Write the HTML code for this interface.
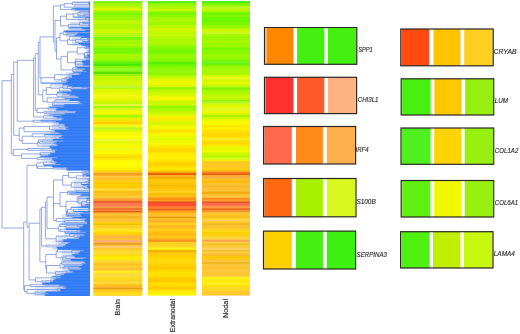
<!DOCTYPE html>
<html><head><meta charset="utf-8"><style>
html,body{margin:0;padding:0;background:#fff;}
body{width:520px;height:334px;overflow:hidden;}
svg{display:block;}
.lb{font-family:"Liberation Sans",sans-serif;font-size:7px;font-style:italic;fill:#2a2a2a;stroke:#2a2a2a;stroke-width:0.15px;}
.cl{font-family:"Liberation Sans",sans-serif;font-size:7px;fill:#2a2a2a;stroke:#2a2a2a;stroke-width:0.15px;}
</style></head><body>
<svg width="520" height="334" viewBox="0 0 520 334">
<defs><filter id="vb" x="-0.02" y="-0.01" width="1.04" height="1.02"><feGaussianBlur stdDeviation="0.15 0.45"/></filter><filter id="gs" x="0" y="0" width="1" height="1"><feColorMatrix type="identity"/></filter></defs>
<rect width="520" height="334" fill="#fff"/>
<g filter="url(#vb)">
<rect x="93.4" y="1.20" width="48.9" height="2.60" fill="#70f000"/>
<rect x="93.4" y="3.00" width="48.9" height="2.80" fill="#a0f800"/>
<rect x="93.4" y="5.00" width="48.9" height="2.80" fill="#b0f800"/>
<rect x="93.4" y="7.00" width="48.9" height="1.80" fill="#c0f800"/>
<rect x="93.4" y="8.00" width="48.9" height="2.80" fill="#d8f800"/>
<rect x="93.4" y="10.00" width="48.9" height="1.80" fill="#c0f800"/>
<rect x="93.4" y="11.00" width="48.9" height="2.80" fill="#98f800"/>
<rect x="93.4" y="13.00" width="48.9" height="2.80" fill="#80f800"/>
<rect x="93.4" y="15.00" width="48.9" height="2.80" fill="#90f800"/>
<rect x="93.4" y="17.00" width="48.9" height="3.80" fill="#a0f800"/>
<rect x="93.4" y="20.00" width="48.9" height="2.80" fill="#b8f800"/>
<rect x="93.4" y="22.00" width="48.9" height="2.80" fill="#c0f800"/>
<rect x="93.4" y="24.00" width="48.9" height="5.80" fill="#b0f800"/>
<rect x="93.4" y="29.00" width="48.9" height="2.80" fill="#c8f800"/>
<rect x="93.4" y="31.00" width="48.9" height="2.80" fill="#d0f800"/>
<rect x="93.4" y="33.00" width="48.9" height="2.80" fill="#b8f800"/>
<rect x="93.4" y="35.00" width="48.9" height="2.80" fill="#b0f820"/>
<rect x="93.4" y="37.00" width="48.9" height="3.80" fill="#80f800"/>
<rect x="93.4" y="40.00" width="48.9" height="4.80" fill="#a0f800"/>
<rect x="93.4" y="44.00" width="48.9" height="2.80" fill="#b0f800"/>
<rect x="93.4" y="46.00" width="48.9" height="2.80" fill="#90f800"/>
<rect x="93.4" y="48.00" width="48.9" height="5.80" fill="#78f800"/>
<rect x="93.4" y="53.00" width="48.9" height="1.80" fill="#88f800"/>
<rect x="93.4" y="54.00" width="48.9" height="5.80" fill="#a4f800"/>
<rect x="93.4" y="59.00" width="48.9" height="2.80" fill="#90f800"/>
<rect x="93.4" y="61.00" width="48.9" height="1.80" fill="#78f800"/>
<rect x="93.4" y="62.00" width="48.9" height="2.80" fill="#60f010"/>
<rect x="93.4" y="64.00" width="48.9" height="2.80" fill="#4ae800"/>
<rect x="93.4" y="66.00" width="48.9" height="2.80" fill="#88f800"/>
<rect x="93.4" y="68.00" width="48.9" height="3.80" fill="#90f820"/>
<rect x="93.4" y="71.00" width="48.9" height="1.80" fill="#80f010"/>
<rect x="93.4" y="72.00" width="48.9" height="2.80" fill="#60e000"/>
<rect x="93.4" y="74.00" width="48.9" height="2.80" fill="#98f010"/>
<rect x="93.4" y="76.00" width="48.9" height="3.80" fill="#c0f800"/>
<rect x="93.4" y="79.00" width="48.9" height="2.80" fill="#c8f800"/>
<rect x="93.4" y="81.00" width="48.9" height="2.80" fill="#d0f800"/>
<rect x="93.4" y="83.00" width="48.9" height="2.80" fill="#d8f800"/>
<rect x="93.4" y="85.00" width="48.9" height="1.80" fill="#c8f820"/>
<rect x="93.4" y="86.00" width="48.9" height="2.80" fill="#c0f830"/>
<rect x="93.4" y="88.00" width="48.9" height="1.80" fill="#b8f800"/>
<rect x="93.4" y="89.00" width="48.9" height="3.80" fill="#d8f800"/>
<rect x="93.4" y="92.00" width="48.9" height="2.80" fill="#e8f800"/>
<rect x="93.4" y="94.00" width="48.9" height="4.80" fill="#f0f808"/>
<rect x="93.4" y="98.00" width="48.9" height="2.80" fill="#e8f800"/>
<rect x="93.4" y="100.00" width="48.9" height="2.80" fill="#d8f800"/>
<rect x="93.4" y="102.00" width="48.9" height="2.80" fill="#c8f800"/>
<rect x="93.4" y="104.00" width="48.9" height="2.80" fill="#e8f840"/>
<rect x="93.4" y="106.00" width="48.9" height="2.80" fill="#a8f800"/>
<rect x="93.4" y="108.00" width="48.9" height="2.80" fill="#d8f820"/>
<rect x="93.4" y="110.00" width="48.9" height="2.80" fill="#f0f800"/>
<rect x="93.4" y="112.00" width="48.9" height="2.80" fill="#f8f800"/>
<rect x="93.4" y="114.00" width="48.9" height="1.80" fill="#d8f800"/>
<rect x="93.4" y="115.00" width="48.9" height="2.80" fill="#a8f800"/>
<rect x="93.4" y="117.00" width="48.9" height="1.80" fill="#c0f800"/>
<rect x="93.4" y="118.00" width="48.9" height="2.80" fill="#e8f000"/>
<rect x="93.4" y="120.00" width="48.9" height="2.80" fill="#ffe000"/>
<rect x="93.4" y="122.00" width="48.9" height="2.80" fill="#ffd000"/>
<rect x="93.4" y="124.00" width="48.9" height="1.80" fill="#ffe800"/>
<rect x="93.4" y="125.00" width="48.9" height="2.80" fill="#f0f820"/>
<rect x="93.4" y="127.00" width="48.9" height="1.80" fill="#d0f800"/>
<rect x="93.4" y="128.00" width="48.9" height="2.80" fill="#c0f820"/>
<rect x="93.4" y="130.00" width="48.9" height="2.80" fill="#e0f800"/>
<rect x="93.4" y="132.00" width="48.9" height="3.80" fill="#f8f800"/>
<rect x="93.4" y="135.00" width="48.9" height="3.80" fill="#ffff00"/>
<rect x="93.4" y="138.00" width="48.9" height="1.80" fill="#f8f800"/>
<rect x="93.4" y="139.00" width="48.9" height="2.80" fill="#e8f830"/>
<rect x="93.4" y="141.00" width="48.9" height="3.80" fill="#e8f800"/>
<rect x="93.4" y="144.00" width="48.9" height="2.80" fill="#f0f800"/>
<rect x="93.4" y="146.00" width="48.9" height="2.80" fill="#f8f800"/>
<rect x="93.4" y="148.00" width="48.9" height="2.80" fill="#f0f820"/>
<rect x="93.4" y="150.00" width="48.9" height="4.80" fill="#f8f800"/>
<rect x="93.4" y="154.00" width="48.9" height="2.80" fill="#ffe800"/>
<rect x="93.4" y="156.00" width="48.9" height="2.80" fill="#ffd800"/>
<rect x="93.4" y="158.00" width="48.9" height="2.80" fill="#ffe800"/>
<rect x="93.4" y="160.00" width="48.9" height="3.80" fill="#fff800"/>
<rect x="93.4" y="163.00" width="48.9" height="3.80" fill="#ffff00"/>
<rect x="93.4" y="166.00" width="48.9" height="2.80" fill="#f8f800"/>
<rect x="93.4" y="168.00" width="48.9" height="2.80" fill="#fff000"/>
<rect x="93.4" y="170.00" width="48.9" height="2.80" fill="#ffd800"/>
<rect x="93.4" y="172.00" width="48.9" height="1.80" fill="#ffc030"/>
<rect x="93.4" y="173.00" width="48.9" height="2.80" fill="#f0a020"/>
<rect x="93.4" y="175.00" width="48.9" height="1.80" fill="#ffb020"/>
<rect x="93.4" y="176.00" width="48.9" height="2.80" fill="#ffc840"/>
<rect x="93.4" y="178.00" width="48.9" height="2.80" fill="#ffc020"/>
<rect x="93.4" y="180.00" width="48.9" height="2.80" fill="#ffd020"/>
<rect x="93.4" y="182.00" width="48.9" height="2.80" fill="#ffc800"/>
<rect x="93.4" y="184.00" width="48.9" height="2.80" fill="#ffd000"/>
<rect x="93.4" y="186.00" width="48.9" height="2.80" fill="#ffc800"/>
<rect x="93.4" y="188.00" width="48.9" height="3.80" fill="#ffd830"/>
<rect x="93.4" y="191.00" width="48.9" height="2.60" fill="#f8c010"/>
<rect x="93.4" y="192.80" width="48.9" height="3.80" fill="#ffc020"/>
<rect x="93.4" y="195.80" width="48.9" height="2.60" fill="#ffd040"/>
<rect x="93.4" y="197.60" width="48.9" height="2.60" fill="#ffb030"/>
<rect x="93.4" y="199.40" width="48.9" height="2.60" fill="#f89030"/>
<rect x="93.4" y="201.20" width="48.9" height="2.60" fill="#e86030"/>
<rect x="93.4" y="203.00" width="48.9" height="2.60" fill="#ff7850"/>
<rect x="93.4" y="204.80" width="48.9" height="2.60" fill="#ff8050"/>
<rect x="93.4" y="206.60" width="48.9" height="2.20" fill="#f0a040"/>
<rect x="93.4" y="208.00" width="48.9" height="2.60" fill="#f07030"/>
<rect x="93.4" y="209.80" width="48.9" height="2.00" fill="#ff8840"/>
<rect x="93.4" y="211.00" width="48.9" height="2.00" fill="#e06010"/>
<rect x="93.4" y="212.20" width="48.9" height="2.00" fill="#ffa030"/>
<rect x="93.4" y="213.40" width="48.9" height="3.80" fill="#ffc030"/>
<rect x="93.4" y="216.40" width="48.9" height="2.30" fill="#f0b020"/>
<rect x="93.4" y="217.90" width="48.9" height="2.90" fill="#ffc030"/>
<rect x="93.4" y="220.00" width="48.9" height="2.30" fill="#ffc050"/>
<rect x="93.4" y="221.50" width="48.9" height="2.90" fill="#ffd000"/>
<rect x="93.4" y="223.60" width="48.9" height="2.20" fill="#f0c000"/>
<rect x="93.4" y="225.00" width="48.9" height="3.80" fill="#ffd020"/>
<rect x="93.4" y="228.00" width="48.9" height="2.00" fill="#ffd830"/>
<rect x="93.4" y="229.20" width="48.9" height="3.20" fill="#ffe820"/>
<rect x="93.4" y="231.60" width="48.9" height="3.20" fill="#ffd800"/>
<rect x="93.4" y="234.00" width="48.9" height="2.60" fill="#ffc820"/>
<rect x="93.4" y="235.80" width="48.9" height="3.20" fill="#f8b840"/>
<rect x="93.4" y="238.20" width="48.9" height="2.60" fill="#ffc030"/>
<rect x="93.4" y="240.00" width="48.9" height="2.60" fill="#ffa878"/>
<rect x="93.4" y="241.80" width="48.9" height="2.00" fill="#ffb850"/>
<rect x="93.4" y="243.00" width="48.9" height="2.60" fill="#e8a020"/>
<rect x="93.4" y="244.80" width="48.9" height="2.00" fill="#ffc040"/>
<rect x="93.4" y="246.00" width="48.9" height="2.80" fill="#ffc868"/>
<rect x="93.4" y="248.00" width="48.9" height="2.60" fill="#ffc830"/>
<rect x="93.4" y="249.80" width="48.9" height="3.80" fill="#ffd830"/>
<rect x="93.4" y="252.80" width="48.9" height="2.60" fill="#ffe030"/>
<rect x="93.4" y="254.60" width="48.9" height="2.60" fill="#ffd810"/>
<rect x="93.4" y="256.40" width="48.9" height="3.80" fill="#fff000"/>
<rect x="93.4" y="259.40" width="48.9" height="2.60" fill="#ffe030"/>
<rect x="93.4" y="261.20" width="48.9" height="3.20" fill="#ffd030"/>
<rect x="93.4" y="263.60" width="48.9" height="2.60" fill="#f8c020"/>
<rect x="93.4" y="265.40" width="48.9" height="3.40" fill="#ffd030"/>
<rect x="93.4" y="268.00" width="48.9" height="2.60" fill="#ffc030"/>
<rect x="93.4" y="269.80" width="48.9" height="2.00" fill="#ffd030"/>
<rect x="93.4" y="271.00" width="48.9" height="2.60" fill="#fff020"/>
<rect x="93.4" y="272.80" width="48.9" height="2.60" fill="#ffe030"/>
<rect x="93.4" y="274.60" width="48.9" height="2.60" fill="#ffd850"/>
<rect x="93.4" y="276.40" width="48.9" height="2.60" fill="#ffe020"/>
<rect x="93.4" y="278.20" width="48.9" height="2.60" fill="#ffd820"/>
<rect x="93.4" y="280.00" width="48.9" height="2.60" fill="#ffd030"/>
<rect x="93.4" y="281.80" width="48.9" height="2.60" fill="#ffe030"/>
<rect x="93.4" y="283.60" width="48.9" height="1.60" fill="#ffd030"/>
<rect x="93.4" y="284.40" width="48.9" height="3.20" fill="#ffc020"/>
<rect x="93.4" y="286.80" width="48.9" height="2.00" fill="#f8b030"/>
<rect x="93.4" y="288.00" width="48.9" height="1.70" fill="#e89810"/>
<rect x="93.4" y="288.90" width="48.9" height="2.90" fill="#ffc020"/>
<rect x="93.4" y="291.00" width="48.9" height="2.60" fill="#ffd020"/>
<rect x="93.4" y="292.80" width="48.9" height="2.90" fill="#ffe020"/>
<rect x="93.4" y="294.90" width="48.9" height="0.90" fill="#ffd840"/>
<rect x="148.0" y="1.10" width="48.2" height="2.70" fill="#50f010"/>
<rect x="148.0" y="3.00" width="48.2" height="3.00" fill="#90f800"/>
<rect x="148.0" y="5.20" width="48.2" height="3.10" fill="#a8f800"/>
<rect x="148.0" y="7.50" width="48.2" height="2.30" fill="#b0f800"/>
<rect x="148.0" y="9.00" width="48.2" height="2.70" fill="#c8f800"/>
<rect x="148.0" y="10.90" width="48.2" height="2.30" fill="#a0f800"/>
<rect x="148.0" y="12.40" width="48.2" height="3.40" fill="#78f800"/>
<rect x="148.0" y="15.00" width="48.2" height="3.00" fill="#90f800"/>
<rect x="148.0" y="17.20" width="48.2" height="3.10" fill="#a8f800"/>
<rect x="148.0" y="19.50" width="48.2" height="3.00" fill="#b0f800"/>
<rect x="148.0" y="21.70" width="48.2" height="4.10" fill="#a0f800"/>
<rect x="148.0" y="25.00" width="48.2" height="3.80" fill="#b8f800"/>
<rect x="148.0" y="28.00" width="48.2" height="4.50" fill="#d0f800"/>
<rect x="148.0" y="31.70" width="48.2" height="3.10" fill="#c0f800"/>
<rect x="148.0" y="34.00" width="48.2" height="3.00" fill="#c8f810"/>
<rect x="148.0" y="36.20" width="48.2" height="3.10" fill="#b8f800"/>
<rect x="148.0" y="38.50" width="48.2" height="3.00" fill="#a8f800"/>
<rect x="148.0" y="40.70" width="48.2" height="3.80" fill="#b0f800"/>
<rect x="148.0" y="43.70" width="48.2" height="3.80" fill="#a0f800"/>
<rect x="148.0" y="46.70" width="48.2" height="4.10" fill="#80f800"/>
<rect x="148.0" y="50.00" width="48.2" height="4.50" fill="#78f800"/>
<rect x="148.0" y="53.70" width="48.2" height="3.10" fill="#90f800"/>
<rect x="148.0" y="56.00" width="48.2" height="3.00" fill="#98f800"/>
<rect x="148.0" y="58.20" width="48.2" height="3.10" fill="#88f800"/>
<rect x="148.0" y="60.50" width="48.2" height="2.60" fill="#78f800"/>
<rect x="148.0" y="62.30" width="48.2" height="2.70" fill="#58f000"/>
<rect x="148.0" y="64.20" width="48.2" height="3.10" fill="#70f800"/>
<rect x="148.0" y="66.50" width="48.2" height="3.80" fill="#88f800"/>
<rect x="148.0" y="69.50" width="48.2" height="3.80" fill="#98f810"/>
<rect x="148.0" y="72.50" width="48.2" height="3.30" fill="#90f800"/>
<rect x="148.0" y="75.00" width="48.2" height="2.30" fill="#a8f800"/>
<rect x="148.0" y="76.50" width="48.2" height="3.00" fill="#c8f800"/>
<rect x="148.0" y="78.70" width="48.2" height="3.10" fill="#e0f800"/>
<rect x="148.0" y="81.00" width="48.2" height="3.00" fill="#f0f800"/>
<rect x="148.0" y="83.20" width="48.2" height="3.10" fill="#e8f800"/>
<rect x="148.0" y="85.50" width="48.2" height="2.60" fill="#d0f800"/>
<rect x="148.0" y="87.30" width="48.2" height="2.70" fill="#98f000"/>
<rect x="148.0" y="89.20" width="48.2" height="3.10" fill="#b8f800"/>
<rect x="148.0" y="91.50" width="48.2" height="3.00" fill="#c8f800"/>
<rect x="148.0" y="93.70" width="48.2" height="3.10" fill="#d8f800"/>
<rect x="148.0" y="96.00" width="48.2" height="3.00" fill="#f0f800"/>
<rect x="148.0" y="98.20" width="48.2" height="2.60" fill="#f8f800"/>
<rect x="148.0" y="100.00" width="48.2" height="2.30" fill="#d8f800"/>
<rect x="148.0" y="101.50" width="48.2" height="3.00" fill="#c8f800"/>
<rect x="148.0" y="103.70" width="48.2" height="2.70" fill="#d8f800"/>
<rect x="148.0" y="105.60" width="48.2" height="3.40" fill="#90f800"/>
<rect x="148.0" y="108.20" width="48.2" height="3.10" fill="#a8f800"/>
<rect x="148.0" y="110.50" width="48.2" height="3.00" fill="#c0f800"/>
<rect x="148.0" y="112.70" width="48.2" height="3.10" fill="#d0f800"/>
<rect x="148.0" y="115.00" width="48.2" height="3.00" fill="#e8f800"/>
<rect x="148.0" y="117.20" width="48.2" height="3.10" fill="#ffe800"/>
<rect x="148.0" y="119.50" width="48.2" height="3.00" fill="#f0f000"/>
<rect x="148.0" y="121.70" width="48.2" height="4.10" fill="#d8f800"/>
<rect x="148.0" y="125.00" width="48.2" height="5.30" fill="#f0f800"/>
<rect x="148.0" y="129.50" width="48.2" height="3.00" fill="#ffe000"/>
<rect x="148.0" y="131.70" width="48.2" height="2.30" fill="#ffe800"/>
<rect x="148.0" y="133.20" width="48.2" height="3.10" fill="#f8f800"/>
<rect x="148.0" y="135.50" width="48.2" height="3.00" fill="#f0f800"/>
<rect x="148.0" y="137.70" width="48.2" height="3.10" fill="#e0f800"/>
<rect x="148.0" y="140.00" width="48.2" height="3.80" fill="#f0f800"/>
<rect x="148.0" y="143.00" width="48.2" height="3.00" fill="#f8f800"/>
<rect x="148.0" y="145.20" width="48.2" height="3.80" fill="#ffe800"/>
<rect x="148.0" y="148.20" width="48.2" height="4.80" fill="#ffd800"/>
<rect x="148.0" y="152.20" width="48.2" height="3.10" fill="#ffe800"/>
<rect x="148.0" y="154.50" width="48.2" height="5.30" fill="#fff000"/>
<rect x="148.0" y="159.00" width="48.2" height="3.00" fill="#ffe800"/>
<rect x="148.0" y="161.20" width="48.2" height="3.10" fill="#ffd800"/>
<rect x="148.0" y="163.50" width="48.2" height="3.00" fill="#ffd000"/>
<rect x="148.0" y="165.70" width="48.2" height="3.10" fill="#ffe000"/>
<rect x="148.0" y="168.00" width="48.2" height="3.00" fill="#ffe800"/>
<rect x="148.0" y="170.20" width="48.2" height="2.30" fill="#ffd000"/>
<rect x="148.0" y="171.70" width="48.2" height="2.30" fill="#f8a010"/>
<rect x="148.0" y="173.20" width="48.2" height="2.60" fill="#e86000"/>
<rect x="148.0" y="175.00" width="48.2" height="3.00" fill="#ffb020"/>
<rect x="148.0" y="177.20" width="48.2" height="2.70" fill="#f0b000"/>
<rect x="148.0" y="179.10" width="48.2" height="3.40" fill="#ffc810"/>
<rect x="148.0" y="181.70" width="48.2" height="3.80" fill="#ffc800"/>
<rect x="148.0" y="184.70" width="48.2" height="2.30" fill="#f0b800"/>
<rect x="148.0" y="186.20" width="48.2" height="3.10" fill="#ffc000"/>
<rect x="148.0" y="188.50" width="48.2" height="3.00" fill="#ffc810"/>
<rect x="148.0" y="190.70" width="48.2" height="3.10" fill="#ffd020"/>
<rect x="148.0" y="193.00" width="48.2" height="3.00" fill="#f8c000"/>
<rect x="148.0" y="195.20" width="48.2" height="3.10" fill="#ffc020"/>
<rect x="148.0" y="197.50" width="48.2" height="3.30" fill="#ff9010"/>
<rect x="148.0" y="200.00" width="48.2" height="2.30" fill="#ffa020"/>
<rect x="148.0" y="201.50" width="48.2" height="1.90" fill="#d85010"/>
<rect x="148.0" y="202.60" width="48.2" height="4.20" fill="#ff5030"/>
<rect x="148.0" y="206.00" width="48.2" height="2.30" fill="#ff7030"/>
<rect x="148.0" y="207.50" width="48.2" height="1.90" fill="#ff9030"/>
<rect x="148.0" y="208.60" width="48.2" height="2.30" fill="#e86018"/>
<rect x="148.0" y="210.10" width="48.2" height="2.30" fill="#ff9020"/>
<rect x="148.0" y="211.60" width="48.2" height="2.30" fill="#ffb020"/>
<rect x="148.0" y="213.10" width="48.2" height="2.70" fill="#ffc020"/>
<rect x="148.0" y="215.00" width="48.2" height="2.60" fill="#ffc030"/>
<rect x="148.0" y="216.80" width="48.2" height="2.00" fill="#e09810"/>
<rect x="148.0" y="218.00" width="48.2" height="3.00" fill="#ffc020"/>
<rect x="148.0" y="220.20" width="48.2" height="3.10" fill="#ffb030"/>
<rect x="148.0" y="222.50" width="48.2" height="3.30" fill="#ffd020"/>
<rect x="148.0" y="225.00" width="48.2" height="3.00" fill="#ffb820"/>
<rect x="148.0" y="227.20" width="48.2" height="2.30" fill="#ffc020"/>
<rect x="148.0" y="228.70" width="48.2" height="3.10" fill="#ffd020"/>
<rect x="148.0" y="231.00" width="48.2" height="3.00" fill="#ffc010"/>
<rect x="148.0" y="233.20" width="48.2" height="3.10" fill="#ffb810"/>
<rect x="148.0" y="235.50" width="48.2" height="3.00" fill="#ffc820"/>
<rect x="148.0" y="237.70" width="48.2" height="2.70" fill="#ffb820"/>
<rect x="148.0" y="239.60" width="48.2" height="3.00" fill="#f89020"/>
<rect x="148.0" y="241.80" width="48.2" height="5.00" fill="#ffd020"/>
<rect x="148.0" y="246.00" width="48.2" height="3.00" fill="#ffe020"/>
<rect x="148.0" y="248.20" width="48.2" height="2.60" fill="#fff010"/>
<rect x="148.0" y="250.00" width="48.2" height="3.00" fill="#f0b000"/>
<rect x="148.0" y="252.20" width="48.2" height="3.10" fill="#ffc810"/>
<rect x="148.0" y="254.50" width="48.2" height="3.80" fill="#ffd000"/>
<rect x="148.0" y="257.50" width="48.2" height="3.80" fill="#ffd800"/>
<rect x="148.0" y="260.50" width="48.2" height="3.80" fill="#ffd810"/>
<rect x="148.0" y="263.50" width="48.2" height="3.80" fill="#ffd000"/>
<rect x="148.0" y="266.50" width="48.2" height="3.80" fill="#ffc800"/>
<rect x="148.0" y="269.50" width="48.2" height="3.00" fill="#ffd800"/>
<rect x="148.0" y="271.70" width="48.2" height="6.30" fill="#ffe000"/>
<rect x="148.0" y="277.20" width="48.2" height="3.10" fill="#ffd000"/>
<rect x="148.0" y="279.50" width="48.2" height="3.80" fill="#ffc800"/>
<rect x="148.0" y="282.50" width="48.2" height="3.00" fill="#ffe000"/>
<rect x="148.0" y="284.70" width="48.2" height="3.10" fill="#ffd800"/>
<rect x="148.0" y="287.00" width="48.2" height="3.00" fill="#ffc800"/>
<rect x="148.0" y="289.20" width="48.2" height="3.10" fill="#ffe000"/>
<rect x="148.0" y="291.50" width="48.2" height="3.00" fill="#fff000"/>
<rect x="148.0" y="293.70" width="48.2" height="1.90" fill="#f8f800"/>
<rect x="202.0" y="1.10" width="48.0" height="2.70" fill="#48f010"/>
<rect x="202.0" y="3.00" width="48.0" height="3.00" fill="#78f800"/>
<rect x="202.0" y="5.20" width="48.0" height="2.70" fill="#a8f800"/>
<rect x="202.0" y="7.10" width="48.0" height="2.30" fill="#b8f830"/>
<rect x="202.0" y="8.60" width="48.0" height="3.10" fill="#c0f800"/>
<rect x="202.0" y="10.90" width="48.0" height="2.30" fill="#a0f800"/>
<rect x="202.0" y="12.40" width="48.0" height="3.40" fill="#70f800"/>
<rect x="202.0" y="15.00" width="48.0" height="3.00" fill="#80f800"/>
<rect x="202.0" y="17.20" width="48.0" height="3.80" fill="#68f800"/>
<rect x="202.0" y="20.20" width="48.0" height="3.10" fill="#70f800"/>
<rect x="202.0" y="22.50" width="48.0" height="3.30" fill="#78f800"/>
<rect x="202.0" y="25.00" width="48.0" height="3.80" fill="#98f800"/>
<rect x="202.0" y="28.00" width="48.0" height="2.30" fill="#b0f800"/>
<rect x="202.0" y="29.50" width="48.0" height="3.00" fill="#d0f800"/>
<rect x="202.0" y="31.70" width="48.0" height="3.10" fill="#c8f820"/>
<rect x="202.0" y="34.00" width="48.0" height="3.00" fill="#a8f800"/>
<rect x="202.0" y="36.20" width="48.0" height="3.10" fill="#98f800"/>
<rect x="202.0" y="38.50" width="48.0" height="3.00" fill="#a0f800"/>
<rect x="202.0" y="40.70" width="48.0" height="3.10" fill="#a8f800"/>
<rect x="202.0" y="43.00" width="48.0" height="3.00" fill="#98f800"/>
<rect x="202.0" y="45.20" width="48.0" height="3.10" fill="#a0f800"/>
<rect x="202.0" y="47.50" width="48.0" height="3.30" fill="#78f800"/>
<rect x="202.0" y="50.00" width="48.0" height="5.30" fill="#88f800"/>
<rect x="202.0" y="54.50" width="48.0" height="2.30" fill="#a0f800"/>
<rect x="202.0" y="56.00" width="48.0" height="3.00" fill="#98f800"/>
<rect x="202.0" y="58.20" width="48.0" height="2.70" fill="#88f800"/>
<rect x="202.0" y="60.10" width="48.0" height="2.70" fill="#78f810"/>
<rect x="202.0" y="62.00" width="48.0" height="2.30" fill="#70f828"/>
<rect x="202.0" y="63.50" width="48.0" height="1.90" fill="#58f000"/>
<rect x="202.0" y="64.60" width="48.0" height="3.00" fill="#88f800"/>
<rect x="202.0" y="66.80" width="48.0" height="2.70" fill="#a0f800"/>
<rect x="202.0" y="68.70" width="48.0" height="3.10" fill="#a8f810"/>
<rect x="202.0" y="71.00" width="48.0" height="4.80" fill="#a8f800"/>
<rect x="202.0" y="75.00" width="48.0" height="3.00" fill="#d8f800"/>
<rect x="202.0" y="77.20" width="48.0" height="3.10" fill="#e8f820"/>
<rect x="202.0" y="79.50" width="48.0" height="3.00" fill="#d0f800"/>
<rect x="202.0" y="81.70" width="48.0" height="3.10" fill="#e8f800"/>
<rect x="202.0" y="84.00" width="48.0" height="3.00" fill="#d0f800"/>
<rect x="202.0" y="86.20" width="48.0" height="2.30" fill="#a8f810"/>
<rect x="202.0" y="87.70" width="48.0" height="2.30" fill="#80f000"/>
<rect x="202.0" y="89.20" width="48.0" height="3.10" fill="#a0f800"/>
<rect x="202.0" y="91.50" width="48.0" height="3.00" fill="#a8f800"/>
<rect x="202.0" y="93.70" width="48.0" height="3.10" fill="#c0f800"/>
<rect x="202.0" y="96.00" width="48.0" height="3.00" fill="#c8f800"/>
<rect x="202.0" y="98.20" width="48.0" height="2.60" fill="#b8f800"/>
<rect x="202.0" y="100.00" width="48.0" height="2.30" fill="#98f000"/>
<rect x="202.0" y="101.50" width="48.0" height="2.70" fill="#b0f830"/>
<rect x="202.0" y="103.40" width="48.0" height="3.40" fill="#d8f800"/>
<rect x="202.0" y="106.00" width="48.0" height="3.00" fill="#e8f800"/>
<rect x="202.0" y="108.20" width="48.0" height="3.10" fill="#e0f830"/>
<rect x="202.0" y="110.50" width="48.0" height="3.40" fill="#f0f800"/>
<rect x="202.0" y="113.10" width="48.0" height="2.70" fill="#d8f800"/>
<rect x="202.0" y="115.00" width="48.0" height="2.60" fill="#a8f000"/>
<rect x="202.0" y="116.80" width="48.0" height="2.70" fill="#c8f800"/>
<rect x="202.0" y="118.70" width="48.0" height="3.10" fill="#e8f800"/>
<rect x="202.0" y="121.00" width="48.0" height="4.80" fill="#f8f800"/>
<rect x="202.0" y="125.00" width="48.0" height="3.80" fill="#ffe800"/>
<rect x="202.0" y="128.00" width="48.0" height="3.00" fill="#fff000"/>
<rect x="202.0" y="130.20" width="48.0" height="3.80" fill="#ffe000"/>
<rect x="202.0" y="133.20" width="48.0" height="3.80" fill="#ffd800"/>
<rect x="202.0" y="136.20" width="48.0" height="3.10" fill="#ffe000"/>
<rect x="202.0" y="138.50" width="48.0" height="2.30" fill="#fff030"/>
<rect x="202.0" y="140.00" width="48.0" height="3.00" fill="#ffe000"/>
<rect x="202.0" y="142.20" width="48.0" height="3.10" fill="#ffd800"/>
<rect x="202.0" y="144.50" width="48.0" height="3.00" fill="#ffe800"/>
<rect x="202.0" y="146.70" width="48.0" height="4.10" fill="#e8f800"/>
<rect x="202.0" y="150.00" width="48.0" height="3.00" fill="#f0f800"/>
<rect x="202.0" y="152.20" width="48.0" height="3.80" fill="#d0f800"/>
<rect x="202.0" y="155.20" width="48.0" height="3.10" fill="#b8f800"/>
<rect x="202.0" y="157.50" width="48.0" height="3.00" fill="#d8f820"/>
<rect x="202.0" y="159.70" width="48.0" height="2.30" fill="#f0f000"/>
<rect x="202.0" y="161.20" width="48.0" height="7.60" fill="#ffc820"/>
<rect x="202.0" y="168.00" width="48.0" height="3.00" fill="#ffd010"/>
<rect x="202.0" y="170.20" width="48.0" height="2.30" fill="#ffb820"/>
<rect x="202.0" y="171.70" width="48.0" height="2.30" fill="#f88020"/>
<rect x="202.0" y="173.20" width="48.0" height="2.60" fill="#e86010"/>
<rect x="202.0" y="175.00" width="48.0" height="2.30" fill="#ffa830"/>
<rect x="202.0" y="176.50" width="48.0" height="3.00" fill="#f8b040"/>
<rect x="202.0" y="178.70" width="48.0" height="3.10" fill="#ffc020"/>
<rect x="202.0" y="181.00" width="48.0" height="3.00" fill="#ffb810"/>
<rect x="202.0" y="183.20" width="48.0" height="2.30" fill="#ffc830"/>
<rect x="202.0" y="184.70" width="48.0" height="3.80" fill="#f8b830"/>
<rect x="202.0" y="187.70" width="48.0" height="3.10" fill="#ffc030"/>
<rect x="202.0" y="190.00" width="48.0" height="2.30" fill="#ffc840"/>
<rect x="202.0" y="191.50" width="48.0" height="3.00" fill="#f0a810"/>
<rect x="202.0" y="193.70" width="48.0" height="3.10" fill="#ffc030"/>
<rect x="202.0" y="196.00" width="48.0" height="2.30" fill="#ffd040"/>
<rect x="202.0" y="197.50" width="48.0" height="3.30" fill="#ff9020"/>
<rect x="202.0" y="200.00" width="48.0" height="2.30" fill="#ffa030"/>
<rect x="202.0" y="201.50" width="48.0" height="1.90" fill="#d85018"/>
<rect x="202.0" y="202.60" width="48.0" height="3.80" fill="#ff6a50"/>
<rect x="202.0" y="205.60" width="48.0" height="2.30" fill="#ff9050"/>
<rect x="202.0" y="207.10" width="48.0" height="1.90" fill="#ffa040"/>
<rect x="202.0" y="208.20" width="48.0" height="2.70" fill="#f07020"/>
<rect x="202.0" y="210.10" width="48.0" height="1.90" fill="#ff9030"/>
<rect x="202.0" y="211.20" width="48.0" height="2.00" fill="#e8a030"/>
<rect x="202.0" y="212.40" width="48.0" height="3.40" fill="#ffc830"/>
<rect x="202.0" y="215.00" width="48.0" height="2.60" fill="#ffc020"/>
<rect x="202.0" y="216.80" width="48.0" height="2.00" fill="#f0c020"/>
<rect x="202.0" y="218.00" width="48.0" height="2.60" fill="#ffd030"/>
<rect x="202.0" y="219.80" width="48.0" height="2.30" fill="#ffd060"/>
<rect x="202.0" y="221.30" width="48.0" height="2.70" fill="#ffc820"/>
<rect x="202.0" y="223.20" width="48.0" height="2.60" fill="#f0b820"/>
<rect x="202.0" y="225.00" width="48.0" height="3.80" fill="#ffc030"/>
<rect x="202.0" y="228.00" width="48.0" height="2.30" fill="#ffc820"/>
<rect x="202.0" y="229.50" width="48.0" height="3.00" fill="#ffd820"/>
<rect x="202.0" y="231.70" width="48.0" height="3.80" fill="#ffd000"/>
<rect x="202.0" y="234.70" width="48.0" height="3.10" fill="#ffd020"/>
<rect x="202.0" y="237.00" width="48.0" height="3.40" fill="#ffd840"/>
<rect x="202.0" y="239.60" width="48.0" height="3.00" fill="#ffa050"/>
<rect x="202.0" y="241.80" width="48.0" height="2.30" fill="#ffd040"/>
<rect x="202.0" y="243.30" width="48.0" height="2.30" fill="#f0c020"/>
<rect x="202.0" y="244.80" width="48.0" height="3.50" fill="#ffc830"/>
<rect x="202.0" y="247.50" width="48.0" height="3.30" fill="#ffd060"/>
<rect x="202.0" y="250.00" width="48.0" height="2.30" fill="#f8b830"/>
<rect x="202.0" y="251.50" width="48.0" height="3.00" fill="#ffd040"/>
<rect x="202.0" y="253.70" width="48.0" height="3.10" fill="#f8b830"/>
<rect x="202.0" y="256.00" width="48.0" height="4.50" fill="#ffc810"/>
<rect x="202.0" y="259.70" width="48.0" height="3.10" fill="#ffc840"/>
<rect x="202.0" y="262.00" width="48.0" height="3.00" fill="#f0b820"/>
<rect x="202.0" y="264.20" width="48.0" height="3.10" fill="#ffc840"/>
<rect x="202.0" y="266.50" width="48.0" height="3.80" fill="#ffc030"/>
<rect x="202.0" y="269.50" width="48.0" height="3.00" fill="#ffc840"/>
<rect x="202.0" y="271.70" width="48.0" height="4.10" fill="#ffc830"/>
<rect x="202.0" y="275.00" width="48.0" height="2.30" fill="#ffc040"/>
<rect x="202.0" y="276.50" width="48.0" height="3.80" fill="#fff020"/>
<rect x="202.0" y="279.50" width="48.0" height="3.80" fill="#ffe810"/>
<rect x="202.0" y="282.50" width="48.0" height="3.00" fill="#fff020"/>
<rect x="202.0" y="284.70" width="48.0" height="3.10" fill="#ffe010"/>
<rect x="202.0" y="287.00" width="48.0" height="3.80" fill="#ffd820"/>
<rect x="202.0" y="290.00" width="48.0" height="3.00" fill="#ffd030"/>
<rect x="202.0" y="292.20" width="48.0" height="3.40" fill="#ffc830"/>
</g>
<g>
<g fill="#d8e4fa"><rect x="74.0" y="1.00" width="16.0" height="11.00"/><rect x="78.0" y="12.00" width="12.0" height="10.00"/><rect x="70.0" y="22.00" width="20.0" height="8.00"/><rect x="66.0" y="30.00" width="24.0" height="7.00"/><rect x="72.0" y="37.00" width="18.0" height="9.00"/><rect x="86.0" y="46.00" width="4.0" height="14.00"/><rect x="75.0" y="60.00" width="15.0" height="12.00"/><rect x="66.0" y="72.00" width="24.0" height="8.00"/><rect x="62.0" y="80.00" width="28.0" height="20.00"/><rect x="56.0" y="100.00" width="34.0" height="10.00"/><rect x="54.0" y="110.00" width="36.0" height="10.00"/><rect x="52.0" y="120.00" width="38.0" height="45.00"/><rect x="60.0" y="165.00" width="30.0" height="5.00"/><rect x="82.0" y="170.00" width="8.0" height="10.00"/><rect x="74.0" y="180.00" width="16.0" height="11.00"/><rect x="70.0" y="191.00" width="20.0" height="5.00"/><rect x="78.0" y="196.00" width="12.0" height="15.00"/><rect x="68.0" y="211.00" width="22.0" height="3.00"/><rect x="62.0" y="214.00" width="28.0" height="11.00"/><rect x="64.0" y="225.00" width="26.0" height="11.00"/><rect x="58.0" y="236.00" width="32.0" height="14.00"/><rect x="62.0" y="250.00" width="28.0" height="12.00"/><rect x="62.0" y="262.00" width="28.0" height="10.00"/><rect x="55.0" y="272.00" width="35.0" height="8.00"/><rect x="45.0" y="280.00" width="45.0" height="6.00"/><rect x="35.0" y="286.00" width="55.0" height="9.60"/></g>
<path d="M89.7 2.10V2.70M89.7 1.50V2.40M89.7 2.40H89.7M88.4 2.10V3.30M88.4 2.10H89.7M89.7 5.10V5.70M89.7 4.50V5.40M89.7 5.40H89.7M89.3 3.90V5.10M89.3 5.10H89.7M72.4 2.40V4.80M72.4 2.40H88.4M72.4 4.80H89.3M89.7 6.30V6.90M89.7 7.50V8.10M89.6 6.60V7.80M89.6 6.60H89.7M89.6 7.80H89.7M64.3 3.60V7.20M64.3 3.60H72.4M64.3 7.20H89.6M89.7 9.90V10.50M75.4 9.30V10.20M75.4 10.20H89.7M71.6 8.70V9.90M71.6 9.90H75.4M60.5 4.80V9.60M60.5 4.80H64.3M60.5 9.60H71.6M88.6 11.10V11.70M89.6 12.90V13.50M89.2 12.30V13.20M89.2 13.20H89.6M79.8 11.40V12.90M79.8 11.40H88.6M79.8 12.90H89.2M89.7 14.10V14.70M89.7 15.90V16.50M89.7 15.30V16.20M89.7 16.20H89.7M84.2 14.40V15.90M84.2 14.40H89.7M84.2 15.90H89.7M77.8 12.30V15.30M77.8 12.30H79.8M77.8 15.30H84.2M73.2 13.80V17.10M73.2 13.80H77.8M89.7 18.30V18.90M89.2 18.60V19.50M89.2 18.60H89.7M89.7 20.10V20.70M89.3 20.40V21.30M89.3 20.40H89.7M88.8 18.90V20.70M88.8 18.90H89.2M88.8 20.70H89.3M85.7 17.70V19.80M85.7 19.80H88.8M66.4 14.10V19.50M66.4 14.10H73.2M66.4 19.50H85.7M89.7 21.90V22.50M82.4 22.20V23.10M82.4 22.20H89.7M89.7 24.30V24.90M89.6 23.70V24.60M89.6 24.60H89.7M89.7 26.10V26.70M89.5 25.50V26.40M89.5 26.40H89.7M88.8 24.30V26.10M88.8 24.30H89.6M88.8 26.10H89.5M79.5 22.50V25.20M79.5 22.50H82.4M79.5 25.20H88.8M89.2 29.10V29.70M83.1 28.50V29.40M83.1 29.40H89.2M81.6 27.90V29.10M81.6 29.10H83.1M69.2 27.30V28.80M69.2 28.80H81.6M68.6 24.30V28.50M68.6 24.30H79.5M68.6 28.50H69.2M60.5 16.20V25.80M60.5 16.20H66.4M60.5 25.80H68.6M85.5 30.30V30.90M89.7 32.10V32.70M65.1 31.50V32.40M65.1 32.40H89.7M64.5 30.60V32.10M64.5 30.60H85.5M64.5 32.10H65.1M77.9 33.30V33.90M76.7 34.50V35.10M74.7 34.80V35.70M74.7 34.80H76.7M66.8 33.60V35.10M66.8 33.60H77.9M66.8 35.10H74.7M63.2 31.50V34.50M63.2 31.50H64.5M63.2 34.50H66.8M84.2 36.30V36.90M89.7 38.10V38.70M89.5 40.50V41.10M89.0 39.90V40.80M89.0 40.80H89.5M88.8 39.30V40.50M88.8 40.50H89.0M87.5 38.40V40.20M87.5 38.40H89.7M87.5 40.20H88.8M82.8 39.60V41.70M82.8 39.60H87.5M80.8 37.50V39.90M80.8 39.90H82.8M89.5 42.30V42.90M75.7 39.60V42.60M75.7 39.60H80.8M75.7 42.60H89.5M69.4 36.60V40.20M69.4 36.60H84.2M69.4 40.20H75.7M81.7 44.10V44.70M81.4 44.40V45.30M81.4 44.40H81.7M78.8 43.50V44.70M78.8 44.70H81.4M67.5 39.60V44.40M67.5 39.60H69.4M67.5 44.40H78.8M60.0 33.00V40.80M60.0 33.00H63.2M60.0 40.80H67.5M88.2 45.90V46.50M85.8 46.20V47.10M85.8 46.20H88.2M89.7 48.30V48.90M89.6 48.60V49.50M89.6 48.60H89.7M89.2 47.70V48.90M89.2 48.90H89.6M84.9 46.50V48.60M84.9 46.50H85.8M84.9 48.60H89.2M89.7 50.70V51.30M89.7 50.10V51.00M89.7 51.00H89.7M89.7 51.90V52.50M89.7 52.20V53.10M89.7 52.20H89.7M89.7 52.50V53.70M89.7 52.50H89.7M88.5 50.70V52.80M88.5 50.70H89.7M88.5 52.80H89.7M89.7 54.30V54.90M87.2 51.90V54.60M87.2 51.90H88.5M87.2 54.60H89.7M87.5 55.50V56.10M88.7 56.70V57.30M85.4 55.80V57.00M85.4 55.80H87.5M85.4 57.00H88.7M84.3 52.50V56.40M84.3 52.50H87.2M84.3 56.40H85.4M84.3 53.70V57.90M84.3 53.70H84.3M77.2 47.70V54.00M77.2 47.70H84.9M77.2 54.00H84.3M89.7 59.10V59.70M89.7 58.50V59.40M89.7 59.40H89.7M85.8 60.30V60.90M82.5 62.10V62.70M82.3 61.50V62.40M82.3 62.40H82.5M82.2 60.60V62.10M82.2 60.60H85.8M82.2 62.10H82.3M84.2 63.90V64.50M83.7 63.30V64.20M83.7 64.20H84.2M82.7 63.90V65.10M82.7 63.90H83.7M75.5 61.50V64.20M75.5 61.50H82.2M75.5 64.20H82.7M75.3 59.10V62.70M75.3 59.10H89.7M75.3 62.70H75.5M89.7 66.30V66.90M89.6 65.70V66.60M89.6 66.60H89.7M75.2 61.80V66.30M75.2 61.80H75.3M75.2 66.30H89.6M67.5 51.90V62.70M67.5 51.90H77.2M67.5 62.70H75.2M77.2 67.50V68.10M85.3 69.30V69.90M84.8 68.70V69.60M84.8 69.60H85.3M72.8 67.80V69.30M72.8 67.80H77.2M72.8 69.30H84.8M86.5 71.10V71.70M82.7 70.50V71.40M82.7 71.40H86.5M73.4 71.10V72.30M73.4 71.10H82.7M72.4 68.70V71.40M72.4 68.70H72.8M72.4 71.40H73.4M61.0 56.40V69.90M61.0 56.40H67.5M61.0 69.90H72.4M56.5 37.80V59.10M56.5 37.80H60.0M56.5 59.10H61.0M55.0 20.40V51.30M55.0 20.40H60.5M55.0 51.30H56.5M53.4 6.00V41.70M53.4 6.00H60.5M53.4 41.70H55.0M81.1 72.90V73.50M79.3 74.10V74.70M79.3 73.20V74.40M79.3 73.20H81.1M79.3 74.40H79.3M72.0 73.80V75.30M72.0 73.80H79.3M71.8 75.90V76.50M69.4 74.10V76.20M69.4 74.10H72.0M69.4 76.20H71.8M72.4 77.10V77.70M69.0 78.30V78.90M65.1 77.40V78.60M65.1 77.40H72.4M65.1 78.60H69.0M67.5 79.50V80.10M64.2 78.00V79.80M64.2 78.00H65.1M64.2 79.80H67.5M67.7 81.30V81.90M66.6 80.70V81.60M66.6 81.60H67.7M66.2 81.30V82.50M66.2 81.30H66.6M61.6 78.60V81.60M61.6 78.60H64.2M61.6 81.60H66.2M54.6 74.70V79.80M54.6 74.70H69.4M54.6 79.80H61.6M41.0 77.70V83.10M41.0 77.70H54.6M40.0 36.90V78.00M40.0 36.90H53.4M40.0 78.00H41.0M62.7 83.70V84.30M68.5 84.90V85.50M89.7 87.30V87.90M87.7 88.50V89.10M81.9 87.60V88.80M81.9 87.60H89.7M81.9 88.80H87.7M72.8 86.70V88.20M72.8 88.20H81.9M71.4 89.70V90.30M70.9 87.90V90.00M70.9 87.90H72.8M70.9 90.00H71.4M67.5 86.10V88.50M67.5 88.50H70.9M62.9 85.20V88.20M62.9 85.20H68.5M62.9 88.20H67.5M72.1 90.90V91.50M59.4 87.60V91.20M59.4 87.60H62.9M59.4 91.20H72.1M51.0 84.00V88.20M51.0 84.00H62.7M51.0 88.20H59.4M71.4 93.90V94.50M69.7 94.20V95.10M69.7 94.20H71.4M67.1 93.30V94.50M67.1 94.50H69.7M62.9 92.70V94.20M62.9 94.20H67.1M57.6 92.10V93.90M57.6 93.90H62.9M77.9 96.30V96.90M75.6 95.70V96.60M75.6 96.60H77.9M56.8 93.60V96.30M56.8 93.60H57.6M56.8 96.30H75.6M46.3 87.60V94.50M46.3 87.60H51.0M46.3 94.50H56.8M79.4 97.50V98.10M70.7 99.30V99.90M69.8 99.60V100.50M69.8 99.60H70.7M65.0 98.70V99.90M65.0 99.90H69.8M80.9 101.10V101.70M80.0 102.30V102.90M82.2 103.50V104.10M79.5 102.60V103.80M79.5 102.60H80.0M79.5 103.80H82.2M78.3 101.40V103.20M78.3 101.40H80.9M78.3 103.20H79.5M55.1 99.60V102.60M55.1 99.60H65.0M55.1 102.60H78.3M64.3 104.70V105.30M54.2 101.40V105.00M54.2 101.40H55.1M54.2 105.00H64.3M52.7 102.00V105.90M52.7 102.00H54.2M47.2 97.80V102.30M47.2 97.80H79.4M47.2 102.30H52.7M42.8 90.30V101.70M42.8 90.30H46.3M42.8 101.70H47.2M38.3 42.30V94.80M38.3 42.30H40.0M38.3 94.80H42.8M63.8 106.50V107.10M49.6 106.80V107.70M49.6 106.80H63.8M57.7 108.30V108.90M56.2 108.60V109.50M56.2 108.60H57.7M56.2 108.90V110.10M56.2 108.90H56.2M48.1 107.10V109.20M48.1 107.10H49.6M48.1 109.20H56.2M76.4 111.30V111.90M68.1 110.70V111.60M68.1 111.60H76.4M75.3 112.50V113.10M64.9 113.70V114.30M45.8 112.80V114.00M45.8 112.80H75.3M45.8 114.00H64.9M44.0 111.30V113.40M44.0 111.30H68.1M44.0 113.40H45.8M37.0 108.30V112.50M37.0 108.30H48.1M37.0 112.50H44.0M35.3 53.70V110.40M35.3 53.70H38.3M35.3 110.40H37.0M61.5 115.50V116.10M53.2 115.80V116.70M53.2 115.80H61.5M49.6 114.90V116.10M49.6 116.10H53.2M63.6 118.50V119.10M62.3 117.90V118.80M62.3 118.80H63.6M56.8 117.30V118.50M56.8 118.50H62.3M43.6 115.80V118.20M43.6 115.80H49.6M43.6 118.20H56.8M33.6 57.90V117.00M33.6 57.90H35.3M33.6 117.00H43.6M61.7 119.70V120.30M40.7 120.00V120.90M40.7 120.00H61.7M58.5 122.10V122.70M55.9 121.50V122.40M55.9 122.40H58.5M33.0 120.30V122.10M33.0 120.30H40.7M33.0 122.10H55.9M17.3 60.30V121.20M17.3 60.30H33.6M17.3 121.20H33.0M65.1 123.90V124.50M63.9 124.20V125.10M63.9 124.20H65.1M65.3 125.70V126.30M62.5 124.50V126.00M62.5 124.50H63.9M62.5 126.00H65.3M59.0 123.30V125.10M59.0 125.10H62.5M68.5 127.50V128.10M67.7 126.90V127.80M67.7 127.80H68.5M65.9 127.50V128.70M65.9 127.50H67.7M59.0 124.80V127.80M59.0 124.80H59.0M59.0 127.80H65.9M68.4 129.30V129.90M49.5 126.00V129.60M49.5 126.00H59.0M49.5 129.60H68.4M55.1 130.50V131.10M54.9 130.80V131.70M54.9 130.80H55.1M58.4 132.30V132.90M51.0 131.10V132.60M51.0 131.10H54.9M51.0 132.60H58.4M24.0 126.60V131.70M24.0 126.60H49.5M24.0 131.70H51.0M61.0 133.50V134.10M63.3 135.30V135.90M61.6 136.50V137.10M60.7 135.60V136.80M60.7 135.60H63.3M60.7 136.80H61.6M63.5 138.30V138.90M59.2 137.70V138.60M59.2 138.60H63.5M55.2 136.20V138.30M55.2 136.20H60.7M55.2 138.30H59.2M44.6 134.70V137.10M44.6 137.10H55.2M32.2 133.80V136.80M32.2 133.80H61.0M32.2 136.80H44.6M52.9 139.50V140.10M63.5 140.70V141.30M56.7 141.90V142.50M42.2 141.00V142.20M42.2 141.00H63.5M42.2 142.20H56.7M56.6 143.70V144.30M54.1 143.10V144.00M54.1 144.00H56.6M39.7 141.60V143.70M39.7 141.60H42.2M39.7 143.70H54.1M38.3 139.80V142.50M38.3 139.80H52.9M38.3 142.50H39.7M57.9 144.90V145.50M56.5 145.20V146.10M56.5 145.20H57.9M50.0 146.70V147.30M49.7 145.50V147.00M49.7 145.50H56.5M49.7 147.00H50.0M37.8 141.90V146.10M37.8 141.90H38.3M37.8 146.10H49.7M22.2 136.20V143.40M22.2 136.20H32.2M22.2 143.40H37.8M19.2 128.10V140.40M19.2 128.10H24.0M19.2 140.40H22.2M13.7 62.10V135.30M13.7 62.10H17.3M13.7 135.30H19.2M51.5 148.50V149.10M51.0 147.90V148.80M51.0 148.80H51.5M57.1 149.70V150.30M54.9 150.00V150.90M54.9 150.00H57.1M27.5 148.50V150.30M27.5 148.50H51.0M27.5 150.30H54.9M55.4 152.10V152.70M55.3 151.50V152.40M55.3 152.40H55.4M50.6 152.10V153.30M50.6 152.10H55.3M50.2 153.90V154.50M48.2 155.10V155.70M41.6 154.20V155.40M41.6 154.20H50.2M41.6 155.40H48.2M40.3 152.40V154.80M40.3 152.40H50.6M40.3 154.80H41.6M40.3 153.60V156.30M40.3 153.60H40.3M57.4 157.50V158.10M44.4 156.90V157.80M44.4 157.80H57.4M52.8 159.30V159.90M52.0 158.70V159.60M52.0 159.60H52.8M37.1 157.50V159.30M37.1 157.50H44.4M37.1 159.30H52.0M21.6 153.90V158.40M21.6 153.90H40.3M21.6 158.40H37.1M13.3 149.40V155.70M13.3 149.40H27.5M13.3 155.70H21.6M11.3 74.40V153.90M11.3 74.40H13.7M11.3 153.90H13.3M54.0 160.50V161.10M57.0 161.70V162.30M55.7 162.90V163.50M55.6 162.00V163.20M55.6 162.00H57.0M55.6 163.20H55.7M51.0 160.80V162.60M51.0 160.80H54.0M51.0 162.60H55.6M60.8 164.10V164.70M43.9 164.40V165.30M43.9 164.40H60.8M43.6 162.00V164.70M43.6 162.00H51.0M43.6 164.70H43.9M52.2 165.90V166.50M67.6 168.90V169.50M66.8 168.30V169.20M66.8 169.20H67.6M66.8 167.70V168.90M66.8 168.90H66.8M66.5 168.60V170.10M66.5 168.60H66.8M53.0 167.10V168.90M53.0 168.90H66.5M37.7 166.20V168.60M37.7 166.20H52.2M37.7 168.60H53.0M36.7 162.90V168.00M36.7 162.90H43.6M36.7 168.00H37.7M89.7 171.30V171.90M89.6 171.60V172.50M89.6 171.60H89.7M88.7 170.70V171.90M88.7 171.90H89.6M85.3 171.60V173.10M85.3 171.60H88.7M89.7 173.70V174.30M82.9 171.90V174.00M82.9 171.90H85.3M82.9 174.00H89.7M89.7 176.10V176.70M86.3 175.50V176.40M86.3 176.40H89.7M82.9 174.90V176.10M82.9 176.10H86.3M89.7 177.90V178.50M89.7 179.10V179.70M89.7 178.20V179.40M89.7 178.20H89.7M89.7 179.40H89.7M89.6 177.30V178.80M89.6 178.80H89.7M88.1 178.50V180.30M88.1 178.50H89.6M76.2 175.80V178.80M76.2 175.80H82.9M76.2 178.80H88.1M68.6 172.50V177.60M68.6 172.50H82.9M68.6 177.60H76.2M89.5 180.90V181.50M88.7 182.10V182.70M89.7 183.30V183.90M88.2 182.40V183.60M88.2 182.40H88.7M88.2 183.60H89.7M86.2 181.20V183.00M86.2 181.20H89.5M86.2 183.00H88.2M81.3 182.40V184.50M81.3 182.40H86.2M89.7 185.10V185.70M87.7 186.90V187.50M87.3 186.30V187.20M87.3 187.20H87.7M89.7 188.70V189.30M89.2 188.10V189.00M89.2 189.00H89.7M84.6 186.90V188.70M84.6 186.90H87.3M84.6 188.70H89.2M83.0 185.40V187.80M83.0 185.40H89.7M83.0 187.80H84.6M71.3 182.70V187.20M71.3 182.70H81.3M71.3 187.20H83.0M62.7 175.50V185.10M62.7 175.50H68.6M62.7 185.10H71.3M89.7 191.10V191.70M89.7 190.50V191.40M89.7 191.40H89.7M89.4 189.90V191.10M89.4 191.10H89.7M76.1 190.80V192.30M76.1 190.80H89.4M68.8 191.10V192.90M68.8 191.10H76.1M89.1 193.50V194.10M82.5 193.80V194.70M82.5 193.80H89.1M80.6 194.10V195.30M80.6 194.10H82.5M67.5 191.40V194.40M67.5 191.40H68.8M67.5 194.40H80.6M89.7 197.10V197.70M89.5 196.50V197.40M89.5 197.40H89.7M88.9 195.90V197.10M88.9 197.10H89.5M86.4 198.30V198.90M89.7 199.50V200.10M89.7 200.70V201.30M89.7 199.80V201.00M89.7 199.80H89.7M89.7 201.00H89.7M89.7 202.50V203.10M89.7 201.90V202.80M89.7 202.80H89.7M89.6 202.50V203.70M89.6 202.50H89.7M86.6 200.40V202.80M86.6 200.40H89.7M86.6 202.80H89.6M89.7 205.50V206.10M89.7 204.90V205.80M89.7 205.80H89.7M85.6 204.30V205.50M85.6 205.50H89.7M81.8 201.60V205.20M81.8 201.60H86.6M81.8 205.20H85.6M81.4 202.80V206.70M81.4 202.80H81.8M78.2 198.60V203.10M78.2 198.60H86.4M78.2 203.10H81.4M77.2 196.80V202.50M77.2 196.80H88.9M77.2 202.50H78.2M89.7 208.50V209.10M89.7 207.90V208.80M89.7 208.80H89.7M89.7 210.30V210.90M89.6 209.70V210.60M89.6 210.60H89.7M88.2 208.50V210.30M88.2 208.50H89.7M88.2 210.30H89.6M73.5 209.40V211.50M73.5 209.40H88.2M71.1 207.30V209.70M71.1 209.70H73.5M89.7 212.70V213.30M83.4 212.10V213.00M83.4 213.00H89.7M80.8 213.90V214.50M80.4 212.70V214.20M80.4 212.70H83.4M80.4 214.20H80.8M67.5 209.40V213.30M67.5 209.40H71.1M67.5 213.30H80.4M67.0 210.90V215.10M67.0 210.90H67.5M82.0 216.30V216.90M81.0 215.70V216.60M81.0 216.60H82.0M66.7 211.20V216.30M66.7 211.20H67.0M66.7 216.30H81.0M66.0 201.30V212.10M66.0 201.30H77.2M66.0 212.10H66.7M60.0 192.60V206.40M60.0 192.60H67.5M60.0 206.40H66.0M86.4 218.70V219.30M80.1 218.10V219.00M80.1 219.00H86.4M72.5 217.50V218.70M72.5 218.70H80.1M84.7 220.50V221.10M84.5 219.90V220.80M84.5 220.80H84.7M87.4 222.30V222.90M87.4 222.60V223.50M87.4 222.60H87.4M86.9 221.70V222.90M86.9 222.90H87.4M64.7 220.50V222.60M64.7 220.50H84.5M64.7 222.60H86.9M56.2 218.40V221.70M56.2 218.40H72.5M56.2 221.70H64.7M53.6 203.40V220.50M53.6 203.40H60.0M53.6 220.50H56.2M53.5 180.00V206.70M53.5 180.00H62.7M53.5 206.70H53.6M83.8 224.70V225.30M83.1 225.90V226.50M81.6 226.20V227.10M81.6 226.20H83.1M77.6 225.00V226.50M77.6 225.00H83.8M77.6 226.50H81.6M79.6 227.70V228.30M66.0 225.90V228.00M66.0 225.90H77.6M66.0 228.00H79.6M59.8 224.10V226.50M59.8 226.50H66.0M66.2 228.90V229.50M81.6 230.10V230.70M86.2 231.90V232.50M80.0 231.30V232.20M80.0 232.20H86.2M76.9 230.40V231.90M76.9 230.40H81.6M76.9 231.90H80.0M65.1 231.30V233.10M65.1 231.30H76.9M60.0 229.20V231.60M60.0 229.20H66.2M60.0 231.60H65.1M58.3 226.20V231.00M58.3 226.20H59.8M58.3 231.00H60.0M47.0 197.10V228.60M47.0 197.10H53.5M47.0 228.60H58.3M84.8 234.90V235.50M84.3 234.30V235.20M84.3 235.20H84.8M79.9 236.10V236.70M79.6 237.90V238.50M79.2 237.30V238.20M79.2 238.20H79.6M77.0 236.40V237.90M77.0 236.40H79.9M77.0 237.90H79.2M74.1 234.90V237.30M74.1 234.90H84.3M74.1 237.30H77.0M69.7 233.70V236.40M69.7 236.40H74.1M66.7 239.10V239.70M64.1 239.40V240.30M64.1 239.40H66.7M63.1 240.90V241.50M62.7 239.70V241.20M62.7 239.70H64.1M62.7 241.20H63.1M70.8 242.10V242.70M68.7 242.40V243.30M68.7 242.40H70.8M68.2 242.70V243.90M68.2 242.70H68.7M62.0 240.30V243.00M62.0 240.30H62.7M62.0 243.00H68.2M56.2 236.10V241.50M56.2 236.10H69.7M56.2 241.50H62.0M45.4 201.90V238.80M45.4 201.90H47.0M45.4 238.80H56.2M65.9 245.10V245.70M65.8 244.50V245.40M65.8 245.40H65.9M63.3 246.30V246.90M56.6 246.60V247.50M56.6 246.60H63.3M46.5 245.10V246.90M46.5 245.10H65.8M46.5 246.90H56.6M41.6 207.30V246.00M41.6 207.30H45.4M41.6 246.00H46.5M57.8 248.70V249.30M57.6 248.10V249.00M57.6 249.00H57.8M83.8 250.50V251.10M80.7 249.90V250.80M80.7 250.80H83.8M80.0 251.70V252.30M78.6 252.00V252.90M78.6 252.00H80.0M78.9 253.50V254.10M75.6 252.30V253.80M75.6 252.30H78.6M75.6 253.80H78.9M71.8 250.50V252.90M71.8 250.50H80.7M71.8 252.90H75.6M57.5 248.70V252.00M57.5 248.70H57.6M57.5 252.00H71.8M72.5 254.70V255.30M74.8 256.50V257.10M74.6 255.90V256.80M74.6 256.80H74.8M71.0 255.00V256.50M71.0 255.00H72.5M71.0 256.50H74.6M85.8 257.70V258.30M83.5 258.00V258.90M83.5 258.00H85.8M70.7 258.30V259.50M70.7 258.30H83.5M66.0 255.90V258.60M66.0 255.90H71.0M66.0 258.60H70.7M71.3 260.10V260.70M62.6 257.10V260.40M62.6 257.10H66.0M62.6 260.40H71.3M56.2 251.10V257.70M56.2 251.10H57.5M56.2 257.70H62.6M84.9 261.90V262.50M83.6 261.30V262.20M83.6 262.20H84.9M86.1 263.10V263.70M82.9 264.30V264.90M82.5 264.60V265.50M82.5 264.60H82.9M81.9 263.40V264.90M81.9 263.40H86.1M81.9 264.90H82.5M61.5 261.90V264.30M61.5 261.90H83.6M61.5 264.30H81.9M79.3 266.70V267.30M81.9 267.90V268.50M80.8 269.10V269.70M68.9 268.20V269.40M68.9 268.20H81.9M68.9 269.40H80.8M68.8 267.00V268.80M68.8 267.00H79.3M68.8 268.80H68.9M64.0 266.10V268.20M64.0 268.20H68.8M60.0 263.40V267.90M60.0 263.40H61.5M60.0 267.90H64.0M69.7 270.30V270.90M73.5 271.50V272.10M72.3 271.80V272.70M72.3 271.80H73.5M67.0 270.60V272.10M67.0 270.60H69.7M67.0 272.10H72.3M65.2 273.30V273.90M63.9 274.50V275.10M62.1 273.60V274.80M62.1 273.60H65.2M62.1 274.80H63.9M60.7 274.20V275.70M60.7 274.20H62.1M55.5 271.50V274.50M55.5 271.50H67.0M55.5 274.50H60.7M46.5 265.50V273.00M46.5 265.50H60.0M46.5 273.00H55.5M45.8 254.40V268.50M45.8 254.40H56.2M45.8 268.50H46.5M39.9 209.10V261.90M39.9 209.10H41.6M39.9 261.90H45.8M61.2 276.90V277.50M60.1 277.20V278.10M60.1 277.20H61.2M55.6 278.70V279.30M53.7 277.50V279.00M53.7 277.50H60.1M53.7 279.00H55.6M52.1 276.30V278.10M52.1 278.10H53.7M53.5 279.90V280.50M53.1 281.10V281.70M50.3 280.20V281.40M50.3 280.20H53.5M50.3 281.40H53.1M50.0 282.30V282.90M42.5 282.60V283.50M42.5 282.60H50.0M42.1 280.80V282.90M42.1 280.80H50.3M42.1 282.90H42.5M35.5 277.80V281.70M35.5 277.80H52.1M35.5 281.70H42.1M29.1 223.20V279.90M29.1 223.20H39.9M29.1 279.90H35.5M27.0 165.30V227.10M27.0 165.30H36.7M27.0 227.10H29.1M59.1 284.70V285.30M42.8 284.10V285.00M42.8 285.00H59.1M65.4 285.90V286.50M63.2 286.20V287.10M63.2 286.20H65.4M30.4 284.70V286.50M30.4 284.70H42.8M30.4 286.50H63.2M66.6 287.70V288.30M65.5 288.00V288.90M65.5 288.00H66.6M60.5 289.50V290.10M60.8 290.70V291.30M57.8 289.80V291.00M57.8 289.80H60.5M57.8 291.00H60.8M57.2 288.30V290.40M57.2 288.30H65.5M57.2 290.40H57.8M45.5 291.90V292.50M48.5 293.10V293.70M45.4 294.90V295.50M44.3 294.30V295.20M44.3 295.20H45.4M41.9 293.40V294.90M41.9 293.40H48.5M41.9 294.90H44.3M34.9 292.20V294.30M34.9 292.20H45.5M34.9 294.30H41.9M27.0 289.50V293.70M27.0 289.50H57.2M27.0 293.70H34.9M24.5 285.60V291.60M24.5 285.60H30.4M24.5 291.60H27.0M23.7 222.00V289.80M23.7 222.00H27.0M23.7 289.80H24.5M2.0 80.70V228.00M2.0 80.70H11.3M2.0 228.00H23.7" stroke="#6585d6" stroke-width="0.7" fill="none"/>
<path d="M72.0 1.60H74.0M72.0 9.26H79.0M62.0 34.32H77.0M64.4 35.58H77.0M60.0 75.14H74.0M67.3 76.12H74.0M70.1 77.09H74.0M64.3 78.55H70.0M60.3 79.84H70.0M54.6 80.88H68.6M55.9 81.87H68.6M59.3 82.85H68.6M57.5 83.90H64.5M54.3 85.48H69.4M54.0 86.59H69.4M60.8 90.31H73.4M56.0 91.28H73.4M58.4 92.33H65.3M57.4 93.77H65.3M67.4 94.88H71.5M59.8 95.84H71.5M66.0 96.91H78.0M68.2 98.07H78.0M61.2 99.64H71.5M55.5 100.95H71.5M48.0 104.52H63.0M57.2 105.59H63.0M48.0 107.01H58.6M48.0 108.05H58.6M48.0 109.57H58.6M71.2 110.76H75.8M58.4 111.69H75.8M62.2 112.76H75.8M47.6 113.84H63.0M55.6 115.15H63.0M44.6 116.18H58.4M52.0 117.12H58.4M46.2 118.42H62.0M54.8 119.75H62.0M51.9 121.29H58.0M51.0 122.20H58.0M54.1 123.41H58.0M55.7 124.43H64.2M59.2 125.73H64.2M47.8 126.89H64.2M53.7 128.47H66.6M54.8 129.86H66.6M53.3 130.86H56.8M40.1 131.77H56.8M45.4 133.16H62.8M50.3 134.07H62.8M48.8 135.31H62.8M43.6 136.44H61.6M50.4 137.39H61.6M45.1 138.80H61.6M39.4 140.22H53.0M47.3 141.68H64.0M42.2 142.82H55.5M41.7 144.35H57.8M42.9 145.54H57.8M40.3 147.05H51.9M43.2 148.39H51.9M39.8 149.69H51.9M42.9 150.65H55.5M39.3 152.25H55.5M41.9 153.66H50.7M39.0 155.07H50.7M41.0 156.28H56.6M42.3 157.24H56.6M44.6 158.16H56.6M46.5 159.39H53.0M42.5 160.78H53.0M40.2 162.11H57.0M53.8 163.19H57.0M47.8 164.30H61.0M55.5 165.34H61.0M50.1 166.88H63.0M56.0 168.09H67.0M56.0 169.22H67.0M72.3 237.02H78.0M54.2 240.65H65.0M52.0 241.98H65.0M55.1 243.15H70.0M60.2 244.69H64.5M52.0 246.24H64.5M52.0 247.23H58.0M52.0 248.57H58.0M52.0 249.73H58.0M62.2 255.49H75.0M61.2 256.53H75.0M60.0 259.35H72.0M60.0 260.40H72.0M63.8 270.46H72.0M62.4 271.42H72.0M57.5 272.71H72.0M60.6 273.95H64.0M60.0 275.41H64.0M54.4 276.87H60.0M50.0 278.01H60.0M50.0 279.01H55.0M41.1 280.27H55.0M41.7 281.76H55.0M41.6 283.32H52.0M54.5 284.88H58.8M47.9 285.94H58.8M51.8 287.04H65.7M54.9 288.39H65.7M48.6 289.88H60.0M51.3 291.00H60.0M31.2 292.49H47.7M31.9 293.54H47.7M32.6 295.11H43.5" stroke="#a9c1f2" stroke-width="0.55" fill="none"/>
<path d="M89.7 2.10H90.0M89.7 2.70H90.0M89.7 1.50H90.0M88.4 3.30H90.0M89.7 5.10H90.0M89.7 5.70H90.0M89.7 4.50H90.0M89.3 3.90H90.0M89.7 6.30H90.0M89.7 6.90H90.0M89.7 7.50H90.0M89.7 8.10H90.0M89.7 9.90H90.0M89.7 10.50H90.0M75.4 9.30H90.0M71.6 8.70H90.0M88.6 11.10H90.0M88.6 11.70H90.0M89.6 12.90H90.0M89.6 13.50H90.0M89.2 12.30H90.0M89.7 14.10H90.0M89.7 14.70H90.0M89.7 15.90H90.0M89.7 16.50H90.0M89.7 15.30H90.0M73.2 17.10H90.0M89.7 18.30H90.0M89.7 18.90H90.0M89.2 19.50H90.0M89.7 20.10H90.0M89.7 20.70H90.0M89.3 21.30H90.0M85.7 17.70H90.0M89.7 21.90H90.0M89.7 22.50H90.0M82.4 23.10H90.0M89.7 24.30H90.0M89.7 24.90H90.0M89.6 23.70H90.0M89.7 26.10H90.0M89.7 26.70H90.0M89.5 25.50H90.0M89.2 29.10H90.0M89.2 29.70H90.0M83.1 28.50H90.0M81.6 27.90H90.0M69.2 27.30H90.0M85.5 30.30H90.0M85.5 30.90H90.0M89.7 32.10H90.0M89.7 32.70H90.0M65.1 31.50H90.0M77.9 33.30H90.0M77.9 33.90H90.0M76.7 34.50H90.0M76.7 35.10H90.0M74.7 35.70H90.0M84.2 36.30H90.0M84.2 36.90H90.0M89.7 38.10H90.0M89.7 38.70H90.0M89.5 40.50H90.0M89.5 41.10H90.0M89.0 39.90H90.0M88.8 39.30H90.0M82.8 41.70H90.0M80.8 37.50H90.0M89.5 42.30H90.0M89.5 42.90H90.0M81.7 44.10H90.0M81.7 44.70H90.0M81.4 45.30H90.0M78.8 43.50H90.0M88.2 45.90H90.0M88.2 46.50H90.0M85.8 47.10H90.0M89.7 48.30H90.0M89.7 48.90H90.0M89.6 49.50H90.0M89.2 47.70H90.0M89.7 50.70H90.0M89.7 51.30H90.0M89.7 50.10H90.0M89.7 51.90H90.0M89.7 52.50H90.0M89.7 53.10H90.0M89.7 53.70H90.0M89.7 54.30H90.0M89.7 54.90H90.0M87.5 55.50H90.0M87.5 56.10H90.0M88.7 56.70H90.0M88.7 57.30H90.0M84.3 57.90H90.0M89.7 59.10H90.0M89.7 59.70H90.0M89.7 58.50H90.0M85.8 60.30H90.0M85.8 60.90H90.0M82.5 62.10H90.0M82.5 62.70H90.0M82.3 61.50H90.0M84.2 63.90H90.0M84.2 64.50H90.0M83.7 63.30H90.0M82.7 65.10H90.0M89.7 66.30H90.0M89.7 66.90H90.0M89.6 65.70H90.0M77.2 67.50H90.0M77.2 68.10H90.0M85.3 69.30H90.0M85.3 69.90H90.0M84.8 68.70H90.0M86.5 71.10H90.0M86.5 71.70H90.0M82.7 70.50H90.0M73.4 72.30H90.0M81.1 72.90H90.0M81.1 73.50H90.0M79.3 74.10H90.0M79.3 74.70H90.0M72.0 75.30H90.0M71.8 75.90H90.0M71.8 76.50H90.0M72.4 77.10H90.0M72.4 77.70H90.0M69.0 78.30H90.0M69.0 78.90H90.0M67.5 79.50H90.0M67.5 80.10H90.0M67.7 81.30H90.0M67.7 81.90H90.0M66.6 80.70H90.0M66.2 82.50H90.0M41.0 83.10H90.0M62.7 83.70H90.0M62.7 84.30H90.0M68.5 84.90H90.0M68.5 85.50H90.0M89.7 87.30H90.0M89.7 87.90H90.0M87.7 88.50H90.0M87.7 89.10H90.0M72.8 86.70H90.0M71.4 89.70H90.0M71.4 90.30H90.0M67.5 86.10H90.0M72.1 90.90H90.0M72.1 91.50H90.0M71.4 93.90H90.0M71.4 94.50H90.0M69.7 95.10H90.0M67.1 93.30H90.0M62.9 92.70H90.0M57.6 92.10H90.0M77.9 96.30H90.0M77.9 96.90H90.0M75.6 95.70H90.0M79.4 97.50H90.0M79.4 98.10H90.0M70.7 99.30H90.0M70.7 99.90H90.0M69.8 100.50H90.0M65.0 98.70H90.0M80.9 101.10H90.0M80.9 101.70H90.0M80.0 102.30H90.0M80.0 102.90H90.0M82.2 103.50H90.0M82.2 104.10H90.0M64.3 104.70H90.0M64.3 105.30H90.0M52.7 105.90H90.0M63.8 106.50H90.0M63.8 107.10H90.0M49.6 107.70H90.0M57.7 108.30H90.0M57.7 108.90H90.0M56.2 109.50H90.0M56.2 110.10H90.0M76.4 111.30H90.0M76.4 111.90H90.0M68.1 110.70H90.0M75.3 112.50H90.0M75.3 113.10H90.0M64.9 113.70H90.0M64.9 114.30H90.0M61.5 115.50H90.0M61.5 116.10H90.0M53.2 116.70H90.0M49.6 114.90H90.0M63.6 118.50H90.0M63.6 119.10H90.0M62.3 117.90H90.0M56.8 117.30H90.0M61.7 119.70H90.0M61.7 120.30H90.0M40.7 120.90H90.0M58.5 122.10H90.0M58.5 122.70H90.0M55.9 121.50H90.0M65.1 123.90H90.0M65.1 124.50H90.0M63.9 125.10H90.0M65.3 125.70H90.0M65.3 126.30H90.0M59.0 123.30H90.0M68.5 127.50H90.0M68.5 128.10H90.0M67.7 126.90H90.0M65.9 128.70H90.0M68.4 129.30H90.0M68.4 129.90H90.0M55.1 130.50H90.0M55.1 131.10H90.0M54.9 131.70H90.0M58.4 132.30H90.0M58.4 132.90H90.0M61.0 133.50H90.0M61.0 134.10H90.0M63.3 135.30H90.0M63.3 135.90H90.0M61.6 136.50H90.0M61.6 137.10H90.0M63.5 138.30H90.0M63.5 138.90H90.0M59.2 137.70H90.0M44.6 134.70H90.0M52.9 139.50H90.0M52.9 140.10H90.0M63.5 140.70H90.0M63.5 141.30H90.0M56.7 141.90H90.0M56.7 142.50H90.0M56.6 143.70H90.0M56.6 144.30H90.0M54.1 143.10H90.0M57.9 144.90H90.0M57.9 145.50H90.0M56.5 146.10H90.0M50.0 146.70H90.0M50.0 147.30H90.0M51.5 148.50H90.0M51.5 149.10H90.0M51.0 147.90H90.0M57.1 149.70H90.0M57.1 150.30H90.0M54.9 150.90H90.0M55.4 152.10H90.0M55.4 152.70H90.0M55.3 151.50H90.0M50.6 153.30H90.0M50.2 153.90H90.0M50.2 154.50H90.0M48.2 155.10H90.0M48.2 155.70H90.0M40.3 156.30H90.0M57.4 157.50H90.0M57.4 158.10H90.0M44.4 156.90H90.0M52.8 159.30H90.0M52.8 159.90H90.0M52.0 158.70H90.0M54.0 160.50H90.0M54.0 161.10H90.0M57.0 161.70H90.0M57.0 162.30H90.0M55.7 162.90H90.0M55.7 163.50H90.0M60.8 164.10H90.0M60.8 164.70H90.0M43.9 165.30H90.0M52.2 165.90H90.0M52.2 166.50H90.0M67.6 168.90H90.0M67.6 169.50H90.0M66.8 168.30H90.0M66.8 167.70H90.0M66.5 170.10H90.0M53.0 167.10H90.0M89.7 171.30H90.0M89.7 171.90H90.0M89.6 172.50H90.0M88.7 170.70H90.0M85.3 173.10H90.0M89.7 173.70H90.0M89.7 174.30H90.0M89.7 176.10H90.0M89.7 176.70H90.0M86.3 175.50H90.0M82.9 174.90H90.0M89.7 177.90H90.0M89.7 178.50H90.0M89.7 179.10H90.0M89.7 179.70H90.0M89.6 177.30H90.0M88.1 180.30H90.0M89.5 180.90H90.0M89.5 181.50H90.0M88.7 182.10H90.0M88.7 182.70H90.0M89.7 183.30H90.0M89.7 183.90H90.0M81.3 184.50H90.0M89.7 185.10H90.0M89.7 185.70H90.0M87.7 186.90H90.0M87.7 187.50H90.0M87.3 186.30H90.0M89.7 188.70H90.0M89.7 189.30H90.0M89.2 188.10H90.0M89.7 191.10H90.0M89.7 191.70H90.0M89.7 190.50H90.0M89.4 189.90H90.0M76.1 192.30H90.0M68.8 192.90H90.0M89.1 193.50H90.0M89.1 194.10H90.0M82.5 194.70H90.0M80.6 195.30H90.0M89.7 197.10H90.0M89.7 197.70H90.0M89.5 196.50H90.0M88.9 195.90H90.0M86.4 198.30H90.0M86.4 198.90H90.0M89.7 199.50H90.0M89.7 200.10H90.0M89.7 200.70H90.0M89.7 201.30H90.0M89.7 202.50H90.0M89.7 203.10H90.0M89.7 201.90H90.0M89.6 203.70H90.0M89.7 205.50H90.0M89.7 206.10H90.0M89.7 204.90H90.0M85.6 204.30H90.0M81.4 206.70H90.0M89.7 208.50H90.0M89.7 209.10H90.0M89.7 207.90H90.0M89.7 210.30H90.0M89.7 210.90H90.0M89.6 209.70H90.0M73.5 211.50H90.0M71.1 207.30H90.0M89.7 212.70H90.0M89.7 213.30H90.0M83.4 212.10H90.0M80.8 213.90H90.0M80.8 214.50H90.0M67.0 215.10H90.0M82.0 216.30H90.0M82.0 216.90H90.0M81.0 215.70H90.0M86.4 218.70H90.0M86.4 219.30H90.0M80.1 218.10H90.0M72.5 217.50H90.0M84.7 220.50H90.0M84.7 221.10H90.0M84.5 219.90H90.0M87.4 222.30H90.0M87.4 222.90H90.0M87.4 223.50H90.0M86.9 221.70H90.0M83.8 224.70H90.0M83.8 225.30H90.0M83.1 225.90H90.0M83.1 226.50H90.0M81.6 227.10H90.0M79.6 227.70H90.0M79.6 228.30H90.0M59.8 224.10H90.0M66.2 228.90H90.0M66.2 229.50H90.0M81.6 230.10H90.0M81.6 230.70H90.0M86.2 231.90H90.0M86.2 232.50H90.0M80.0 231.30H90.0M65.1 233.10H90.0M84.8 234.90H90.0M84.8 235.50H90.0M84.3 234.30H90.0M79.9 236.10H90.0M79.9 236.70H90.0M79.6 237.90H90.0M79.6 238.50H90.0M79.2 237.30H90.0M69.7 233.70H90.0M66.7 239.10H90.0M66.7 239.70H90.0M64.1 240.30H90.0M63.1 240.90H90.0M63.1 241.50H90.0M70.8 242.10H90.0M70.8 242.70H90.0M68.7 243.30H90.0M68.2 243.90H90.0M65.9 245.10H90.0M65.9 245.70H90.0M65.8 244.50H90.0M63.3 246.30H90.0M63.3 246.90H90.0M56.6 247.50H90.0M57.8 248.70H90.0M57.8 249.30H90.0M57.6 248.10H90.0M83.8 250.50H90.0M83.8 251.10H90.0M80.7 249.90H90.0M80.0 251.70H90.0M80.0 252.30H90.0M78.6 252.90H90.0M78.9 253.50H90.0M78.9 254.10H90.0M72.5 254.70H90.0M72.5 255.30H90.0M74.8 256.50H90.0M74.8 257.10H90.0M74.6 255.90H90.0M85.8 257.70H90.0M85.8 258.30H90.0M83.5 258.90H90.0M70.7 259.50H90.0M71.3 260.10H90.0M71.3 260.70H90.0M84.9 261.90H90.0M84.9 262.50H90.0M83.6 261.30H90.0M86.1 263.10H90.0M86.1 263.70H90.0M82.9 264.30H90.0M82.9 264.90H90.0M82.5 265.50H90.0M79.3 266.70H90.0M79.3 267.30H90.0M81.9 267.90H90.0M81.9 268.50H90.0M80.8 269.10H90.0M80.8 269.70H90.0M64.0 266.10H90.0M69.7 270.30H90.0M69.7 270.90H90.0M73.5 271.50H90.0M73.5 272.10H90.0M72.3 272.70H90.0M65.2 273.30H90.0M65.2 273.90H90.0M63.9 274.50H90.0M63.9 275.10H90.0M60.7 275.70H90.0M61.2 276.90H90.0M61.2 277.50H90.0M60.1 278.10H90.0M55.6 278.70H90.0M55.6 279.30H90.0M52.1 276.30H90.0M53.5 279.90H90.0M53.5 280.50H90.0M53.1 281.10H90.0M53.1 281.70H90.0M50.0 282.30H90.0M50.0 282.90H90.0M42.5 283.50H90.0M59.1 284.70H90.0M59.1 285.30H90.0M42.8 284.10H90.0M65.4 285.90H90.0M65.4 286.50H90.0M63.2 287.10H90.0M66.6 287.70H90.0M66.6 288.30H90.0M65.5 288.90H90.0M60.5 289.50H90.0M60.5 290.10H90.0M60.8 290.70H90.0M60.8 291.30H90.0M45.5 291.90H90.0M45.5 292.50H90.0M48.5 293.10H90.0M48.5 293.70H90.0M45.4 294.90H90.0M45.4 295.50H90.0M44.3 294.30H90.0" stroke="#2f7af6" stroke-width="1.0" fill="none"/>
</g>
<g filter="url(#gs)">
<rect x="264.5" y="27.4" width="2.0" height="36.9" fill="#ff8800" fill-opacity="0.45"/>
<rect x="266.5" y="27.4" width="26.9" height="36.9" fill="#ff8800"/>
<rect x="297.1" y="27.4" width="27.3" height="36.9" fill="#44f010"/>
<rect x="328.0" y="27.4" width="28.3" height="36.9" fill="#44f010"/>
<rect x="264.5" y="27.4" width="92.3" height="36.9" fill="none" stroke="#2b2622" stroke-width="1.2"/>
<text x="358.2" y="51.6" class="lb" textLength="14.6" lengthAdjust="spacingAndGlyphs">SPP1</text>
<rect x="264.5" y="77.3" width="1.1" height="36.3" fill="#ff3030" fill-opacity="0.45"/>
<rect x="265.6" y="77.3" width="27.8" height="36.3" fill="#ff3030"/>
<rect x="297.1" y="77.3" width="27.2" height="36.3" fill="#ff5a28"/>
<rect x="327.9" y="77.3" width="27.9" height="36.3" fill="#ffb282"/>
<rect x="264.5" y="77.3" width="92.1" height="36.3" fill="none" stroke="#2b2622" stroke-width="1.2"/>
<text x="357.8" y="101.8" class="lb" textLength="20.6" lengthAdjust="spacingAndGlyphs">CHI3L1</text>
<rect x="263.6" y="126.5" width="0.9" height="37.5" fill="#ff6a4c" fill-opacity="0.45"/>
<rect x="264.5" y="126.5" width="27.3" height="37.5" fill="#ff6a4c"/>
<rect x="296.0" y="126.5" width="26.9" height="37.5" fill="#ff8c1a"/>
<rect x="326.8" y="126.5" width="28.2" height="37.5" fill="#ffb04e"/>
<rect x="263.6" y="126.5" width="92.0" height="37.5" fill="none" stroke="#2b2622" stroke-width="1.2"/>
<text x="355.6" y="151.8" class="lb" textLength="13.0" lengthAdjust="spacingAndGlyphs">IRF4</text>
<rect x="263.6" y="178.5" width="0.9" height="38.3" fill="#ff6a10" fill-opacity="0.45"/>
<rect x="264.5" y="178.5" width="27.3" height="38.3" fill="#ff6a10"/>
<rect x="296.0" y="178.5" width="26.9" height="38.3" fill="#a8f000"/>
<rect x="326.8" y="178.5" width="28.6" height="38.3" fill="#d8f820"/>
<rect x="263.6" y="178.5" width="92.4" height="38.3" fill="none" stroke="#2b2622" stroke-width="1.2"/>
<text x="356.4" y="203.8" class="lb" textLength="19.3" lengthAdjust="spacingAndGlyphs">S100B</text>
<rect x="263.5" y="231.1" width="0.9" height="37.9" fill="#ffd000" fill-opacity="0.45"/>
<rect x="264.4" y="231.1" width="27.4" height="37.9" fill="#ffd000"/>
<rect x="296.0" y="231.1" width="26.9" height="37.9" fill="#44f010"/>
<rect x="326.8" y="231.1" width="28.2" height="37.9" fill="#3cf010"/>
<rect x="263.5" y="231.1" width="92.1" height="37.9" fill="none" stroke="#2b2622" stroke-width="1.2"/>
<text x="356.6" y="256.6" class="lb" textLength="30.3" lengthAdjust="spacingAndGlyphs">SERPINA3</text>
<rect x="400.8" y="29.0" width="1.2" height="36.8" fill="#ff4a10" fill-opacity="0.45"/>
<rect x="402.0" y="29.0" width="27.1" height="36.8" fill="#ff4a10"/>
<rect x="433.5" y="29.0" width="26.9" height="36.8" fill="#ffc400"/>
<rect x="464.2" y="29.0" width="28.4" height="36.8" fill="#ffd020"/>
<rect x="400.8" y="29.0" width="92.4" height="36.8" fill="none" stroke="#2b2622" stroke-width="1.2"/>
<text x="493.6" y="53.6" class="lb" textLength="22.9" lengthAdjust="spacingAndGlyphs">CRYAB</text>
<rect x="401.2" y="78.8" width="1.0" height="36.2" fill="#48f010" fill-opacity="0.45"/>
<rect x="402.2" y="78.8" width="28.4" height="36.2" fill="#48f010"/>
<rect x="434.4" y="78.8" width="26.9" height="36.2" fill="#ffc800"/>
<rect x="465.2" y="78.8" width="28.0" height="36.2" fill="#98f010"/>
<rect x="401.2" y="78.8" width="92.5" height="36.2" fill="none" stroke="#2b2622" stroke-width="1.2"/>
<text x="494.8" y="103.1" class="lb" textLength="13.2" lengthAdjust="spacingAndGlyphs">LUM</text>
<rect x="401.0" y="128.0" width="1.0" height="36.3" fill="#50f020" fill-opacity="0.45"/>
<rect x="402.0" y="128.0" width="28.6" height="36.3" fill="#50f020"/>
<rect x="434.2" y="128.0" width="27.1" height="36.3" fill="#ffd400"/>
<rect x="464.7" y="128.0" width="28.5" height="36.3" fill="#98f010"/>
<rect x="401.0" y="128.0" width="92.7" height="36.3" fill="none" stroke="#2b2622" stroke-width="1.2"/>
<text x="494.8" y="152.7" class="lb" textLength="23.6" lengthAdjust="spacingAndGlyphs">COL1A2</text>
<rect x="401.2" y="180.5" width="1.0" height="36.5" fill="#60f010" fill-opacity="0.45"/>
<rect x="402.2" y="180.5" width="28.2" height="36.5" fill="#60f010"/>
<rect x="434.2" y="180.5" width="27.0" height="36.5" fill="#f0f800"/>
<rect x="464.7" y="180.5" width="28.5" height="36.5" fill="#98f010"/>
<rect x="401.2" y="180.5" width="92.5" height="36.5" fill="none" stroke="#2b2622" stroke-width="1.2"/>
<text x="494.8" y="204.7" class="lb" textLength="23.4" lengthAdjust="spacingAndGlyphs">COL6A1</text>
<rect x="400.6" y="231.7" width="1.2" height="36.3" fill="#50f010" fill-opacity="0.45"/>
<rect x="401.8" y="231.7" width="27.8" height="36.3" fill="#50f010"/>
<rect x="433.0" y="231.7" width="27.4" height="36.3" fill="#c0f000"/>
<rect x="463.8" y="231.7" width="28.7" height="36.3" fill="#c8f810"/>
<rect x="400.6" y="231.7" width="92.4" height="36.3" fill="none" stroke="#2b2622" stroke-width="1.2"/>
<text x="493.8" y="256.3" class="lb" textLength="21.0" lengthAdjust="spacingAndGlyphs">LAMA4</text>
<text transform="translate(120.2,315.5) rotate(-90)" class="cl" textLength="16.5" lengthAdjust="spacingAndGlyphs">Brain</text>
<text transform="translate(175.2,332.2) rotate(-90)" class="cl" textLength="33.2" lengthAdjust="spacingAndGlyphs">Extranodal</text>
<text transform="translate(228.2,317.9) rotate(-90)" class="cl" textLength="18.9" lengthAdjust="spacingAndGlyphs">Nodal</text>
</g>
</svg>
</body></html>
